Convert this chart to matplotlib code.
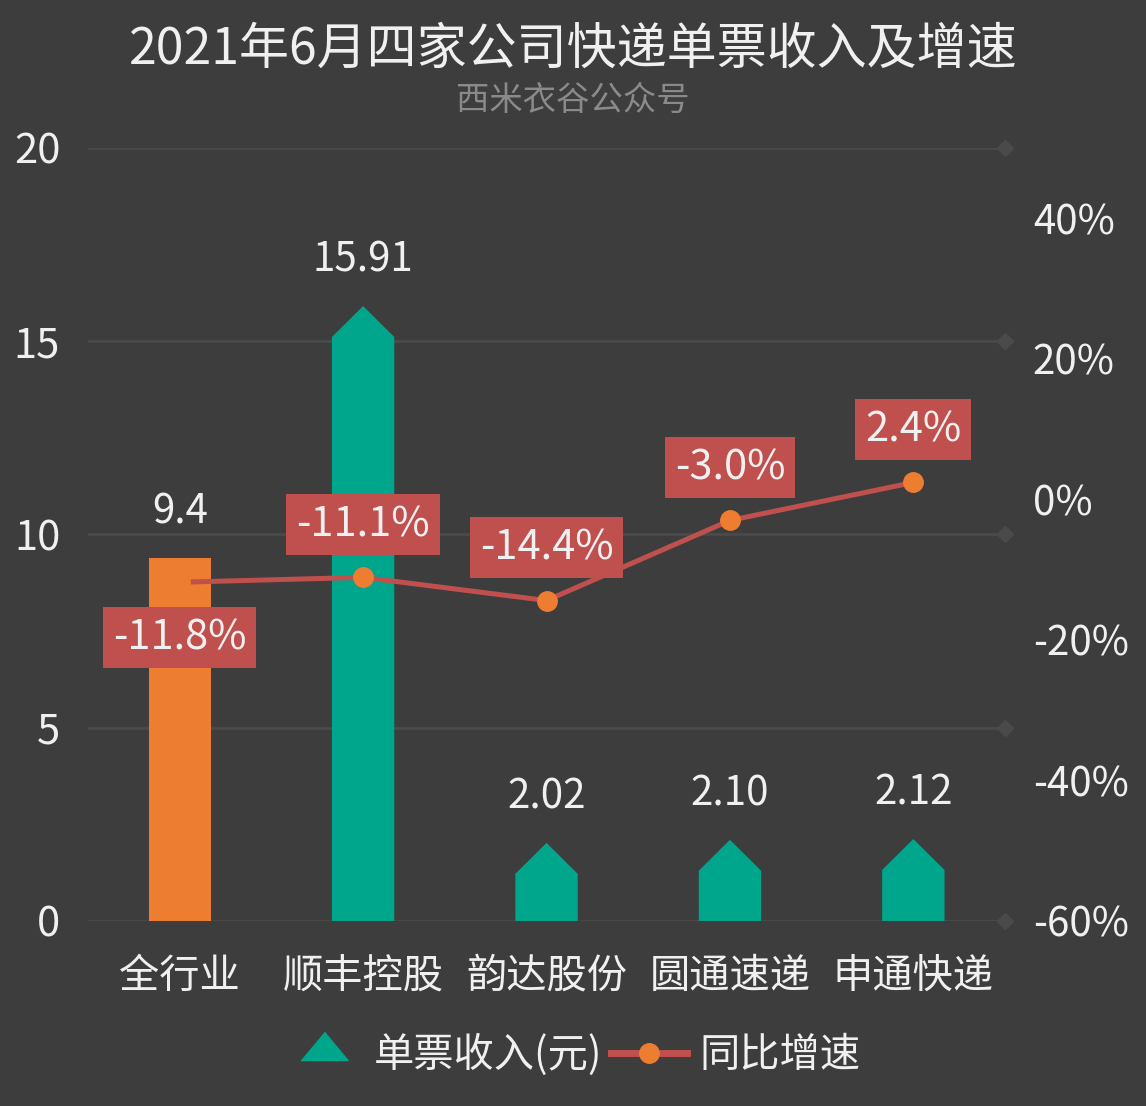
import matplotlib.pyplot as plt
from matplotlib.lines import Line2D
import numpy as np

plt.rcParams['font.family'] = ['Noto Sans CJK SC', 'DejaVu Sans']
plt.rcParams['font.weight'] = 'light'

categories = ['全行业', '顺丰控股', '韵达股份', '圆通速递', '申通快递']
revenue = [9.4, 15.91, 2.02, 2.10, 2.12]
revenue_labels = ['9.4', '15.91', '2.02', '2.10', '2.12']
growth = [-11.8, -11.1, -14.4, -3.0, 2.4]
growth_labels = ['-11.8%', '-11.1%', '-14.4%', '-3.0%', '2.4%']

bg = '#3d3d3d'
grid_c = '#4a4a4a'
txt = '#f0f0f0'
teal = '#00A68C'
orange = '#ED7D31'
red = '#C0504D'

fig = plt.figure(figsize=(11.46, 11.06), dpi=100, facecolor=bg)
ax = fig.add_axes([0.0768, 0.1673, 0.8002, 0.6989])
ax.set_facecolor(bg)
ax.set_xlim(-0.5, len(categories) - 0.5)
ax.set_ylim(0, 20)

for s in ax.spines.values():
    s.set_visible(False)

# grid lines with diamond ends
yt = [0, 5, 10, 15, 20]
for y in yt:
    ax.axhline(y, color=grid_c, lw=2, zorder=0)
    ax.plot([len(categories) - 0.5], [y], marker='D', ms=8, color=grid_c,
            clip_on=False, zorder=0)

w = 0.34
peak = 0.8
x = np.arange(len(categories))
for i, v in enumerate(revenue):
    if i == 0:
        ax.bar(i, v, width=w, color=orange, zorder=2)
    else:
        xs = [i - w / 2, i - w / 2, i, i + w / 2, i + w / 2]
        ys = [0, v - peak, v, v - peak, 0]
        ax.fill(xs, ys, color=teal, lw=0, zorder=2)
    ax.annotate(revenue_labels[i], (i, v), xytext=(0, 33), textcoords='offset points',
                ha='center', va='center', fontsize=29, color=txt, zorder=5)

ax.set_yticks(yt)
ax.set_yticklabels([str(t) for t in yt])
ax.set_xticks(x)
ax.set_xticklabels(categories)
ax.tick_params(axis='y', length=0, pad=20, labelsize=30, labelcolor=txt)
ax.tick_params(axis='x', length=0, pad=25, labelsize=29, labelcolor=txt)

ax2 = ax.twinx()
ax2.set_ylim(-60, 50)
for s in ax2.spines.values():
    s.set_visible(False)
rt = [-60, -40, -20, 0, 20, 40]
ax2.set_yticks(rt)
ax2.set_yticklabels([f'{t}%' for t in rt])
ax2.tick_params(axis='y', length=0, pad=20, labelsize=29, labelcolor=txt)

ax2.plot(x, growth, color=red, lw=3.6, marker='o', ms=14,
         markerfacecolor=orange, markeredgecolor=orange, zorder=4)
for i, g in enumerate(growth):
    off = -40 if i == 0 else 38
    ax2.annotate(growth_labels[i], (i, g), xytext=(0, off), textcoords='offset points',
                 ha='center', va='center', fontsize=30, color=txt, zorder=6,
                 bbox=dict(boxstyle='square,pad=0.24', fc=red, ec='none'))

fig.text(0.5, 1 - 50 / 1106, '2021年6月四家公司快递单票收入及增速', ha='center', va='center',
         fontsize=36, color=txt)
fig.text(0.5, 1 - 100 / 1106, '西米衣谷公众号', ha='center', va='center',
         fontsize=24, color='#8a8a8a')

tri = [(-1, -0.3), (1, -0.3), (0, 0.9)]
handles = [
    Line2D([], [], color=teal, marker=tri, ls='none', ms=34),
    Line2D([], [], color=red, lw=5, marker='o', ms=14,
           markerfacecolor=orange, markeredgecolor=orange),
]
fig.legend(handles, ['单票收入(元)', '同比增速'], loc='center',
           bbox_to_anchor=(0.5, 1 - 1055 / 1106), ncol=2, frameon=False,
           fontsize=29, labelcolor=txt, handlelength=1.9, handletextpad=0.3,
           columnspacing=0.2)

fig.savefig('out.png', dpi=100, facecolor=bg)
